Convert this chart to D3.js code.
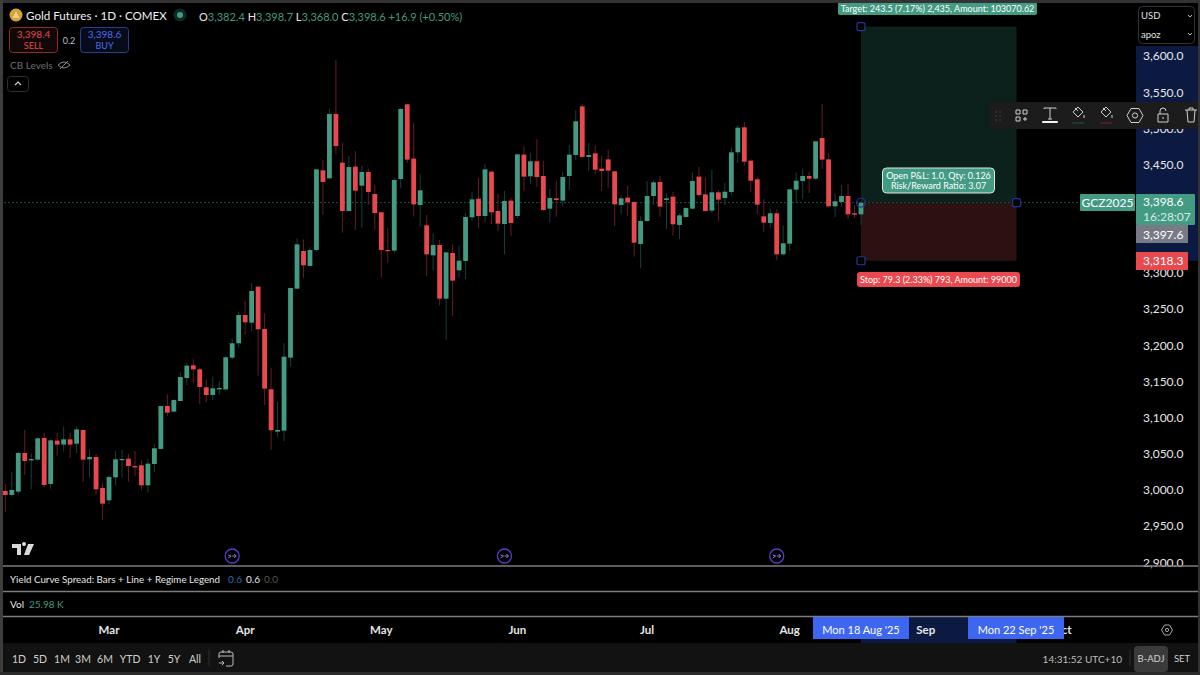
<!DOCTYPE html>
<html>
<head>
<meta charset="utf-8">
<script src="https://cdn.jsdelivr.net/npm/d3@7"></script>
<style>
html, body { margin: 0; padding: 0; background: #000; overflow: hidden; }
svg { display: block; }
text { font-family: Lato, "Noto Sans", sans-serif; }
</style>
</head>
<body>
<svg id="chart" width="1200" height="675"></svg>
<script>
// daily candles, oldest first
const opens = [3000,2994.5,2999.1,3052.5,3042.4,3043.3,3073.3,3009.7,3069.6,3064.1,3071.4,3065.4,3084.3,3043.8,3047,3004.1,2987.1,3018.9,3042.9,3044.7,3034.5,3035.5,3007.8,3037.3,3058.1,3117.5,3109.7,3124.4,3156.2,3173.7,3168.2,3143.3,3132.7,3140.5,3140.5,3184.3,3204.2,3243.3,3232.7,3282.5,3224,3140.6,3082,3083.4,3184.3,3279.7,3331.8,3311.1,3333.2,3443.3,3432.3,3521.2,3453.9,3387.1,3448.4,3422.1,3441,3410.6,3385.3,3333.2,3332.3,3431.3,3534.6,3459.5,3395.4,3367.3,3325.8,3340.1,3265.9,3329,3305.1,3318,3378.3,3404.1,3380.2,3441.5,3387.1,3369.1,3401.4,3380.2,3465,3435,3455.8,3435.5,3390.3,3404.6,3401.4,3435.5,3464.5,3531.8,3461.8,3466.8,3445.6,3458.5,3441.9,3395.4,3405.5,3399.6,3341.5,3373.3,3407.8,3427.2,3402.3,3406.9,3367.8,3378.8,3390.3,3434.6,3410.1,3387.6,3412.9,3405.1,3413.4,3468.2,3502.8,3456.7,3430.9,3379.7,3370.5,3383.9,3327.2,3341.9,3416.6,3428.6,3435.5,3431.8,3488,3458.5,3393.6,3399.6,3407.8,3383.9,3382.4];
const highs = [3009.7,3026.3,3053.9,3084.3,3052.1,3074.2,3080.2,3071.4,3080.2,3088.9,3080.2,3089.8,3085.2,3057.6,3050.7,3012,3022.1,3055.3,3056.7,3051.1,3055.3,3042.4,3044.2,3064.5,3118,3133.6,3126.7,3164,3177.4,3182,3171,3154.4,3158.1,3152.1,3187.5,3210.6,3247.9,3263.1,3287.6,3283,3245.6,3170.5,3123.5,3204.2,3281,3349.3,3347.9,3336.9,3445,3458.1,3528.6,3595.9,3481.6,3463.1,3470,3449.8,3445.6,3423.5,3385.5,3363.1,3433.2,3530.4,3535,3508.3,3438.7,3381.6,3356.2,3347,3330,3341.5,3339.2,3384.3,3413.4,3433.2,3452.5,3442,3410.6,3414.8,3405.1,3465.5,3476,3467.7,3486.2,3456.7,3417.5,3428.6,3441,3478.4,3526.3,3534.6,3481.1,3477.9,3463.6,3471.9,3442.5,3409.2,3422.1,3400,3379.7,3428.6,3429,3435.5,3411.5,3413.8,3383.9,3392.2,3440.1,3447.9,3433.6,3444.2,3416.1,3426.3,3475.1,3506,3510.1,3458.5,3434.6,3403.7,3390.8,3389.4,3367.3,3417.5,3440.1,3445.6,3441,3484,3535,3467.3,3411.5,3423,3424.4,3395.4,3398.7];
const lows = [2970.5,2992.2,2995.4,3022.1,3002.3,3041.9,3005.5,3003.2,3048.8,3054.4,3045.6,3052.5,3012.4,3018.4,2994.5,2959.5,2981.6,3007.8,3018.4,3012.9,3020.7,3000.9,2997.7,3026.3,3058,3103.7,3108.3,3124,3146.5,3148.8,3120.3,3123,3125.8,3133.6,3138.2,3182,3198.6,3216.1,3221.2,3159.5,3118.9,3056.7,3074.2,3069.1,3171.9,3279.5,3294.9,3311,3330.9,3382,3430.9,3465.9,3357.1,3387,3360.8,3364.5,3395.4,3361.3,3295.4,3315.7,3329.5,3418.4,3453.5,3379.3,3365.4,3297.2,3305.5,3256.2,3208.8,3242.4,3294.5,3293.1,3373.3,3364,3371.4,3369.1,3359.5,3327.2,3352.6,3377.4,3414.7,3424.9,3420.3,3387.1,3371,3379.3,3393.1,3416.1,3457.6,3459.5,3442.4,3437.8,3414.7,3419.4,3366.4,3382.9,3380.2,3324,3308.3,3371.9,3395.4,3379.3,3362.2,3353,3348.4,3378.3,3390,3406.9,3386.2,3384.3,3372.8,3395.4,3409.2,3453,3449.3,3413.4,3382.9,3358.1,3363.1,3319.4,3325.4,3331.8,3398.6,3403.2,3412,3429.9,3445.2,3393.1,3378.8,3393.1,3376,3377.4,3368];
const closes = [2994.5,3001.4,3052.5,3041.5,3044.2,3072.8,3008.3,3070,3064.1,3071.4,3064.1,3085.2,3043.3,3047,3002.3,2982.5,3019.3,3043.8,3044.2,3034.5,3032.7,3007.8,3037.8,3059,3117.5,3108.3,3125.8,3157.6,3173.3,3168.2,3143.8,3132.7,3141.9,3142.4,3184.8,3204.2,3243.3,3233.2,3276.5,3223.5,3141.5,3083.9,3084.4,3185.7,3280.7,3341,3312,3333.2,3444.7,3427.2,3521.2,3476.9,3387.1,3447.9,3415.2,3441,3413.4,3384.3,3333.2,3331.8,3430,3528.1,3458.1,3396.3,3415.7,3327.2,3340.1,3265.9,3329.9,3290.8,3318.4,3378.8,3403.2,3380.2,3444.7,3385.2,3369.6,3400.9,3370.5,3465.4,3434.6,3455.8,3434.1,3388.5,3405.1,3402.3,3434.1,3465,3511.1,3461.8,3464.5,3444.2,3442.4,3442.9,3396.3,3404.6,3399.1,3343.3,3373.3,3407.8,3426.7,3393.1,3404.6,3368.7,3381.1,3391.3,3428.6,3409.2,3387.1,3412.9,3402.8,3413.8,3468.2,3502.3,3455.3,3429,3395.9,3371,3383.9,3327.2,3342.4,3417,3429,3435.5,3431.8,3483.4,3458.1,3393.6,3400.5,3407.8,3382.5,3382,3398.6];

// 3,350 and 3,400 sit behind the price tags
const priceTicks = [2900, 2950, 3000, 3050, 3100, 3150, 3200, 3250, 3300, 3450, 3500, 3550, 3600];
const months = ["Mar", "Apr", "May", "Jun", "Jul", "Aug", "Sep", "Oct"];
const monthBars = [16, 37, 58, 79, 99, 121, 142, 163];
const ranges = ["1D", "5D", "1M", "3M", "6M", "YTD", "1Y", "5Y", "All"];
const rangeX = [19, 40, 62, 83, 105, 130, 154, 174, 195];
const eventBars = [35, 77, 119];

const entry = 3398.6, stopPrice = 3318.3, targetPrice = 3642.1;
const lastBar = opens.length - 1, endBar = lastBar + 24;

const UP = "#439b84", DOWN = "#e8494f", UP_WICK = "#12413a", DOWN_WICK = "#651d22", HANDLE = "#1f3796";

const x = d3.scaleLinear().domain([0, lastBar]).range([5.3, 861]);
const y = d3.scaleLinear().domain([2900, 3600]).range([563.3, 57]);
const fmt = d3.format(",.1f");

const svg = d3.select("#chart");
svg.append("rect").attr("width", 1200).attr("height", 675).attr("fill", "#000");

function label(txt, px, py, size, fill, anchor, weight) {
    return svg.append("text").text(txt)
        .attr("x", px).attr("y", py)
        .attr("font-size", size).attr("fill", fill)
        .attr("text-anchor", anchor || "start")
        .attr("font-weight", weight || 400)
        .attr("dominant-baseline", "central");
}
function box(px, py, w, h, fill, r, stroke) {
    return svg.append("rect").attr("x", px).attr("y", py).attr("width", w).attr("height", h)
        .attr("fill", fill).attr("rx", r || 0).attr("stroke", stroke || "none");
}
function icon(d, tx, ty, stroke, sw) {
    return svg.append("path").attr("d", d).attr("transform", `translate(${tx},${ty})`)
        .attr("fill", "none").attr("stroke", stroke).attr("stroke-width", sw || 1);
}

// blue highlight on both axes for the position
box(1136, 46, 62, y(stopPrice) - 46, "#0c1a42");
box(x(lastBar), 617, x(endBar) - x(lastBar), 27, "#0c1a42");

// position tool zones
box(x(lastBar), y(targetPrice), x(endBar) - x(lastBar), y(entry) - y(targetPrice), "#0c201c");
box(x(lastBar), y(entry), x(endBar) - x(lastBar), y(stopPrice) - y(entry), "#2c1113");

// last price line
svg.append("line").attr("x1", 0).attr("x2", 1080).attr("y1", y(entry)).attr("y2", y(entry))
    .attr("stroke", "#1d5547").attr("stroke-dasharray", "2,2").attr("stroke-width", 1);

// candles
const candles = svg.append("g").selectAll("g").data(opens).enter().append("g");
candles.append("line")
    .attr("x1", (d, i) => x(i)).attr("x2", (d, i) => x(i))
    .attr("y1", (d, i) => y(highs[i])).attr("y2", (d, i) => y(lows[i]))
    .attr("stroke", (d, i) => closes[i] >= d ? UP_WICK : DOWN_WICK)
    .attr("stroke-width", 1);
candles.append("rect")
    .attr("x", (d, i) => x(i) - 2.4).attr("width", 4.8)
    .attr("y", (d, i) => y(Math.max(d, closes[i])))
    .attr("height", (d, i) => Math.max(1.2, Math.abs(y(d) - y(closes[i]))))
    .attr("fill", (d, i) => closes[i] >= d ? UP : DOWN);

// price axis
const axis = svg.append("g").attr("transform", "translate(1143,-1)")
    .call(d3.axisRight(y).tickValues(priceTicks).tickFormat(fmt).tickSize(0).tickPadding(0));
axis.select(".domain").remove();
axis.selectAll("text").attr("font-size", 12).attr("fill", "#e6e6e6").attr("font-family", null);

// position handles
[[lastBar, targetPrice], [endBar, entry], [lastBar, stopPrice]].forEach(h => {
    svg.append("rect").attr("x", x(h[0]) - 4).attr("y", y(h[1]) - 4).attr("width", 8).attr("height", 8).attr("rx", 2)
        .attr("fill", "#000").attr("stroke", HANDLE).attr("stroke-width", 1.2);
});
svg.append("circle").attr("cx", x(lastBar)).attr("cy", y(entry)).attr("r", 4.4)
    .attr("fill", "none").attr("stroke", HANDLE).attr("stroke-width", 1.2);

// position labels
box(838, 2, 199, 13, UP, 2);
label("Target: 243.5 (7.17%) 2,435, Amount: 103070.62", 937.5, 8.5, 9, "#fff", "middle");
box(857, 272, 163, 15, DOWN, 3);
label("Stop: 79.3 (2.33%) 793, Amount: 99000", 938.5, 279.5, 9, "#fff", "middle");
box(882.5, 168, 112, 25, UP, 4, "#dfe7e4");
label("Open P&L: 1.0, Qty: 0.126", 938.5, 175.5, 9, "#fff", "middle");
label("Risk/Reward Ratio: 3.07", 938.5, 185.5, 9, "#fff", "middle");

// price tags
box(1080, 194, 55, 17, UP, 1);
label("GCZ2025", 1107.5, 202.5, 12, "#fff", "middle");
box(1136, 194, 59, 31, UP, 1);
label("3,398.6", 1143, 201.5, 12, "#fff");
label("16:28:07", 1143, 216, 12, "#d5ebe5");
box(1136, 225, 52, 18, "#787b86");
label("3,397.6", 1143, 234, 12, "#fff");
box(1136, 252, 52, 18, DOWN);
label("3,318.3", 1143, 260.5, 12, "#fff");

// currency and unit picker
box(1138.5, 6.5, 56, 37, "#000", 4, "#333");
label("USD", 1141, 15.5, 9.5, "#e0e0e0");
label("apoz", 1141, 34, 9.5, "#e0e0e0");
icon("M0,0l2,2l2,-2", 1188, 15, "#bbb");
icon("M0,0l2,2l2,-2", 1188, 33, "#bbb");

// floating drawing toolbar
box(990, 102, 210, 27, "#1c1c1c", 4);
svg.append("g").selectAll("circle").data(d3.cross([996, 1000], [112, 116, 120])).enter().append("circle")
    .attr("cx", d => d[0]).attr("cy", d => d[1]).attr("r", 0.7).attr("fill", "#555");
icon("M0,0h4v4h-4zM7,0h4v4h-4zM0,7h4v4h-4zM9,7v4M7,9h4", 1016, 110, "#cfcfcf");
icon("M0,1V0h12v1M6,0v11M4,11h4", 1044, 108, "#cfcfcf");
box(1042, 121, 16, 2, "#f2f2f2", 1);
icon("M5,0l5,5l-5,5l-5,-5zM2,1l3,3M11,8v3", 1073, 107, "#cfcfcf");
icon("M0,0h12", 1072, 123, "#1d5547", 1);
icon("M5,0l5,5l-5,5l-5,-5zM2,1l3,3M11,8v3", 1101, 107, "#cfcfcf");
icon("M0,0h12", 1100, 123, "#7a2327", 1);
icon("M4,0h8l4,7l-4,7h-8l-4,-7z", 1127, 108.5, "#cfcfcf");
svg.append("circle").attr("cx", 1135).attr("cy", 115.5).attr("r", 2.6).attr("fill", "none").attr("stroke", "#cfcfcf");
icon("M0,5h10v8h-10zM2,5V2a3,3 0 0 1 6,0M5,8v2", 1158, 109, "#cfcfcf");
icon("M0,2h12M2,2l1,12h6l1,-12M4,2V0h4v2", 1185, 108, "#cfcfcf");

// events row
eventBars.forEach(i => {
    svg.append("circle").attr("cx", x(i)).attr("cy", 556).attr("r", 7)
        .attr("fill", "none").attr("stroke", "#5b3cc4").attr("stroke-width", 1.3);
    icon("M-4,-1l3,1l-3,2M0,0h4M2,-2l2,2l-2,2", x(i), 556, "#8f76e0", 1);
});

// tradingview mark
svg.append("path").attr("transform", "translate(12,544)").attr("fill", "#d9d9d9")
    .attr("d", "M0,0h9v11h-4v-7h-5zM10,0a2,2 0 1 1 0,0.1zM16,0h6l-5,11h-5z");

// pane separators
[566, 591.5, 616.5].forEach(py => box(3, py - 0.75, 1195, 1.5, "#7d7d7d"));

// legend
svg.append("circle").attr("cx", 16).attr("cy", 15).attr("r", 6.5).attr("fill", "#d9a32f");
icon("M-3,2h6M-2,0h4M-1,-2h2", 16, 15, "#fff", 1.2);
label("Gold Futures · 1D · COMEX", 26, 15.5, 11.6, "#f0f0f0");
svg.append("circle").attr("cx", 180).attr("cy", 15).attr("r", 6.5).attr("fill", "#0f2a25");
svg.append("circle").attr("cx", 180).attr("cy", 15).attr("r", 3).attr("fill", UP);
const ohlc = svg.append("text").attr("x", 199).attr("y", 15.5).attr("font-size", 11).attr("dominant-baseline", "central");
[["O", "#e6e6e6"], ["3,382.4 ", UP], ["H", "#e6e6e6"], ["3,398.7 ", UP], ["L", "#e6e6e6"], ["3,368.0 ", UP], ["C", "#e6e6e6"], ["3,398.6 ", UP], ["+16.9 (+0.50%)", UP]]
    .forEach(p => ohlc.append("tspan").text(p[0]).attr("fill", p[1]));

box(9.5, 27.5, 48, 25, "#120808", 3, "#8c2d30");
label("3,398.4", 33.5, 34, 10, DOWN, "middle");
label("SELL", 33.5, 45.5, 9, DOWN, "middle");
label("0.2", 69, 40, 9, "#bbb", "middle");
box(80.5, 27.5, 48, 25, "#080c1a", 3, "#25408f");
label("3,398.6", 104.5, 34, 10, "#4a6cf0", "middle");
label("BUY", 104.5, 45.5, 9, "#4a6cf0", "middle");
label("CB Levels", 10, 65, 10, "#6e6e6e");
icon("M0,4q6,-6 12,0q-6,6 -12,0zM2,8l8,-8", 58, 61, "#8a8a8a");
box(7.5, 76.5, 21, 15, "#000", 3, "#2e2e2e");
icon("M0,3l3,-3l3,3", 15, 82, "#cfcfcf", 1.2);

// study panes
label("Yield Curve Spread: Bars + Line + Regime Legend", 10, 579, 9.8, "#e6e6e6");
label("0.6", 228, 579, 10, "#2f6aa8");
label("0.6", 246, 579, 10, "#e6e6e6");
label("0.0", 264, 579, 10, "#555");
label("Vol", 10, 604, 10, "#e6e6e6");
label("25.98 K", 29, 604, 10, UP);

// time axis, Oct is half covered by the date label like in the terminal
months.forEach((m, i) => label(m, x(monthBars[i]), 629.5, 11.5, "#e6e6e6", "middle", 700));
box(813, 617, 96, 22, "#3d67f0");
label("Mon 18 Aug '25", 861, 629, 11, "#fff", "middle");
box(968, 617, 96, 22, "#3d67f0");
label("Mon 22 Sep '25", 1016, 629, 11, "#fff", "middle");
icon("M3.5,0h5l3,5l-3,5h-5l-3,-5z", 1161, 625, "#aaa");
svg.append("circle").attr("cx", 1167).attr("cy", 630).attr("r", 1.6).attr("fill", "none").attr("stroke", "#aaa");

// bottom toolbar
box(3, 643, 1195, 29, "#121212");
ranges.forEach((r, i) => label(r, rangeX[i], 658.5, 10.5, "#cfcfcf", "middle"));
box(208.5, 650, 1, 16, "#2e2e2e");
icon("M2,2h10a2,2 0 0 1 2,2v10a2,2 0 0 1 -2,2h-5M0,8V4a2,2 0 0 1 2,-2M0,6h14M4,0v3M10,0v3M0,13h5M3,11l2,2l-2,2", 219, 650, "#bbb");
label("14:31:52 UTC+10", 1122, 658.5, 10, "#bdbdbd", "end");
box(1129.5, 650, 1, 16, "#2e2e2e");
box(1134, 646, 34, 26, "#3b3b3b", 4);
label("B-ADJ", 1151, 658.5, 9.5, "#d0d0d0", "middle");
label("SET", 1182, 658.5, 9.5, "#cfcfcf", "middle");

// window frame
box(0, 0, 1200, 3, "#333");
box(0, 0, 3, 675, "#3d3d3d");
box(1198, 0, 2, 675, "#333");
box(0, 672, 1200, 3, "#2b2b2b");
</script>
</body>
</html>
